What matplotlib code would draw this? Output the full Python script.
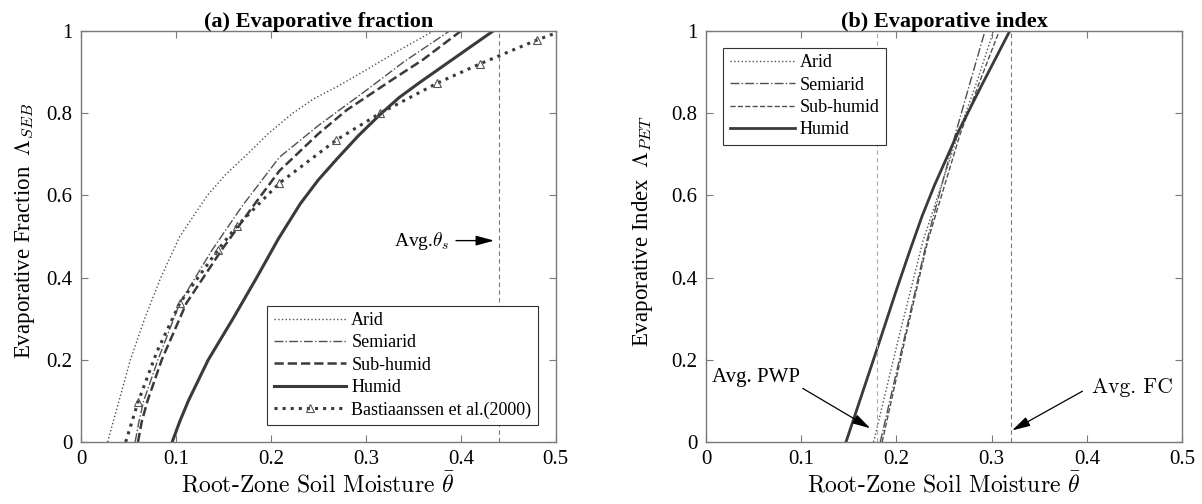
import matplotlib
matplotlib.use('Agg')
import matplotlib.pyplot as plt

plt.rcParams['font.family'] = ['Liberation Serif', 'DejaVu Serif']
plt.rcParams['mathtext.fontset'] = 'cm'

# ---- panel (a): evaporative fraction vs soil moisture ----
arid_a_x = [0.028, 0.034, 0.040, 0.052, 0.067, 0.084, 0.104, 0.133, 0.152, 0.175, 0.197,
            0.223, 0.245, 0.270, 0.300, 0.335, 0.371]
arid_a_y = [0.0, 0.05, 0.10, 0.20, 0.30, 0.40, 0.50, 0.60, 0.65, 0.70, 0.75,
            0.80, 0.835, 0.865, 0.905, 0.953, 1.0]

semi_a_x = [0.057, 0.061, 0.066, 0.081, 0.104, 0.138, 0.170, 0.209, 0.250, 0.300, 0.340, 0.388]
semi_a_y = [0.0, 0.05, 0.10, 0.20, 0.338, 0.467, 0.575, 0.693, 0.77, 0.855, 0.925, 1.0]

subh_a_x = [0.060, 0.064, 0.070, 0.085, 0.111, 0.148, 0.180, 0.209, 0.250, 0.280, 0.330, 0.360, 0.400]
subh_a_y = [0.0, 0.05, 0.10, 0.20, 0.338, 0.467, 0.57, 0.66, 0.75, 0.808, 0.885, 0.93, 1.0]

humid_a_x = [0.096, 0.104, 0.113, 0.134, 0.160, 0.185, 0.208, 0.231, 0.250, 0.270, 0.292,
             0.315, 0.335, 0.355, 0.400, 0.434]
humid_a_y = [0.0, 0.05, 0.10, 0.20, 0.30, 0.40, 0.495, 0.58, 0.638, 0.69, 0.745,
             0.797, 0.838, 0.872, 0.945, 1.0]

bast_x = [0.047, 0.060, 0.080, 0.104, 0.144, 0.164, 0.209, 0.269, 0.315, 0.375, 0.420, 0.480, 0.500]
bast_y = [0.0, 0.097, 0.22, 0.338, 0.467, 0.525, 0.63, 0.735, 0.80, 0.873, 0.92, 0.978, 0.995]
bast_marks = [1, 3, 4, 5, 6, 7, 8, 9, 10, 11]

theta_s = 0.44

# ---- panel (b): evaporative index vs soil moisture ----
arid_b_x = [0.176, 0.202, 0.228, 0.265, 0.285, 0.302]
arid_b_y = [0.0, 0.25, 0.49, 0.75, 0.88, 1.0]

semi_b_x = [0.183, 0.208, 0.232, 0.262, 0.278, 0.293]
semi_b_y = [0.0, 0.25, 0.49, 0.75, 0.88, 1.0]

subh_b_x = [0.185, 0.209, 0.233, 0.267, 0.288, 0.308]
subh_b_y = [0.0, 0.25, 0.49, 0.75, 0.88, 1.0]

humid_b_x = [0.147, 0.165, 0.183, 0.200, 0.214, 0.227, 0.240, 0.265, 0.290, 0.319]
humid_b_y = [0.0, 0.125, 0.25, 0.37, 0.465, 0.55, 0.625, 0.755, 0.87, 1.0]

pwp = 0.18
fc = 0.32

line_col = '#3a3a3a'
spine_col = '#7a7a7a'
arrow_style = '-|>,head_length=1.1,head_width=0.3'


def style_axes(ax):
    ax.set_xlim(0, 0.5)
    ax.set_ylim(0, 1)
    ax.set_xticks([0, 0.1, 0.2, 0.3, 0.4, 0.5])
    ax.set_xticklabels(['0', '0.1', '0.2', '0.3', '0.4', '0.5'])
    ax.set_yticks([0, 0.2, 0.4, 0.6, 0.8, 1.0])
    ax.set_yticklabels(['0', '0.2', '0.4', '0.6', '0.8', '1'])
    ax.tick_params(direction='in', top=True, right=True, length=5,
                   color=spine_col, labelsize=15, pad=6)
    for sp in ax.spines.values():
        sp.set_color(spine_col)
        sp.set_linewidth(1.0)


def style_legend(leg):
    leg.get_frame().set_edgecolor('#333333')
    leg.get_frame().set_linewidth(0.8)


fig = plt.figure(figsize=(12.02, 5.04), dpi=100)
ax1 = fig.add_axes([0.0674, 0.123, 0.395, 0.8155])
ax2 = fig.add_axes([0.5874, 0.123, 0.396, 0.8155])

# panel (a)
ax1.plot(arid_a_x, arid_a_y, ':', color='#505050', lw=1.0, label='Arid')
ax1.plot(semi_a_x, semi_a_y, '-.', color='#505050', lw=1.0, label='Semiarid')
ax1.plot(subh_a_x, subh_a_y, '--', color=line_col, lw=1.8, label='Sub-humid')
ax1.plot(humid_a_x, humid_a_y, '-', color=line_col, lw=2.2, label='Humid')
ax1.plot(bast_x, bast_y, ':', color=line_col, lw=2.2, marker='^', ms=5.5,
         mfc='none', mec='#555555', mew=0.8, markevery=bast_marks,
         label='Bastiaanssen et al.(2000)')
ax1.axvline(theta_s, color='#777777', lw=0.8, ls=(0, (4, 3)))
ax1.annotate('', xy=(0.438, 0.49), xytext=(0.392, 0.49),
             arrowprops=dict(arrowstyle=arrow_style, color='k', lw=1.0))
ax1.text(0.388, 0.49, r'Avg.$\theta_s$', ha='right', va='center', fontsize=14)
style_axes(ax1)
ax1.set_title('(a) Evaporative fraction', fontsize=16, fontweight='bold', pad=3)
ax1.set_ylabel(r'Evaporative Fraction  $\Lambda_{SEB}$', fontsize=16.5)
ax1.yaxis.set_label_coords(-0.093, 0.513)
ax1.set_xlabel(r'Root-Zone Soil Moisture $\bar{\theta}$', fontsize=17,
               family='cmr10', labelpad=2)
leg1 = ax1.legend(loc='lower right', bbox_to_anchor=(0.962, 0.041), fontsize=13,
                  handlelength=4.0, handletextpad=0.3, labelspacing=0.3,
                  borderpad=0.35, borderaxespad=0, fancybox=False, framealpha=1)
style_legend(leg1)

# panel (b)
ax2.plot(arid_b_x, arid_b_y, ':', color='#505050', lw=1.0, label='Arid')
ax2.plot(semi_b_x, semi_b_y, '-.', color='#505050', lw=1.0, label='Semiarid')
ax2.plot(subh_b_x, subh_b_y, '--', color='#505050', lw=1.0, label='Sub-humid')
ax2.plot(humid_b_x, humid_b_y, '-', color=line_col, lw=2.0, label='Humid')
ax2.axvline(pwp, color='#aaaaaa', lw=0.8, ls=(0, (4, 3)))
ax2.axvline(fc, color='#777777', lw=0.8, ls=(0, (4, 3)))
ax2.annotate('', xy=(0.175, 0.03), xytext=(0.099, 0.134),
             arrowprops=dict(arrowstyle=arrow_style, color='k', lw=0.9))
ax2.text(0.006, 0.156, 'Avg. PWP', ha='left', va='center', fontsize=15)
ax2.annotate('', xy=(0.319, 0.025), xytext=(0.398, 0.127),
             arrowprops=dict(arrowstyle=arrow_style, color='k', lw=0.9))
ax2.text(0.405, 0.134, 'Avg. FC', ha='left', va='center', fontsize=15.5, family='cmr10')
style_axes(ax2)
ax2.set_title('(b) Evaporative index', fontsize=16, fontweight='bold', pad=3)
ax2.set_ylabel(r'Evaporative Index  $\Lambda_{PET}$', fontsize=16.5)
ax2.yaxis.set_label_coords(-0.107, 0.513)
ax2.set_xlabel(r'Root-Zone Soil Moisture $\bar{\theta}$', fontsize=17,
               family='cmr10', labelpad=2)
leg2 = ax2.legend(loc='upper left', bbox_to_anchor=(0.036, 0.959), fontsize=13,
                  handlelength=3.6, handletextpad=0.3, labelspacing=0.3,
                  borderpad=0.35, borderaxespad=0, fancybox=False, framealpha=1)
style_legend(leg2)

fig.savefig('out.png', dpi=100)
